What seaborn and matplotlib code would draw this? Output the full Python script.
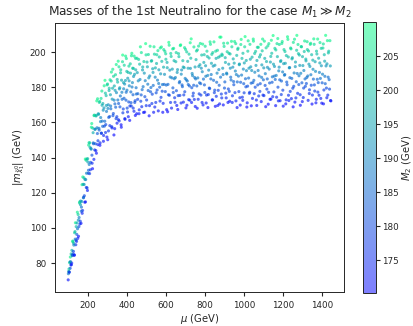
import numpy as np
import pandas as pd
import matplotlib
matplotlib.use("Agg")
import matplotlib.pyplot as plt
from matplotlib.colors import ListedColormap, Normalize
from matplotlib.cm import ScalarMappable
import seaborn as sns

# first scan: mu (GeV), M2 (GeV) and |m_chi1| (GeV)
mu_a = [97, 99, 102, 104, 107, 109, 112, 115, 117, 120,
        122, 125, 128, 130, 133, 136, 138, 141, 144, 146,
        149, 152, 155, 157, 160, 163, 165, 168, 171, 174,
        176, 179, 182, 185, 187, 190, 193, 196, 198, 201,
        204, 207, 209, 212, 215, 218, 220, 223, 226, 229,
        231, 234, 237, 240, 242, 245, 248, 250,
        253, 256, 259, 261, 264, 267, 270, 272, 275, 278,
        281, 283, 286, 289, 292, 294, 297, 300, 303, 305,
        308, 311, 314, 316, 319, 322, 325, 327, 330, 333,
        336, 338, 341, 344, 347, 349, 352, 355, 358, 360,
        363, 366, 369, 371, 374, 377, 380, 382, 385, 388,
        391, 394, 396, 399, 402, 405, 408, 410, 413, 416,
        419, 421, 424, 427, 430, 432, 435, 438, 441, 443,
        446, 449,
        452, 455, 459, 462, 466, 470, 473, 477, 480, 484,
        488, 491, 495, 498, 502, 506, 509, 513, 516, 520,
        524, 527, 531, 534, 538, 542, 545, 549, 552, 556,
        560, 563, 567, 570, 574, 578, 581, 585, 588, 592,
        596, 599, 603, 606, 610, 614, 617, 621, 624, 628,
        632, 635, 639, 642, 646, 650, 653, 657, 660, 664,
        668, 671, 675, 678, 682, 686, 689, 693, 696, 700,
        704, 707, 711, 714, 718, 722, 725, 729, 732, 736,
        740, 743, 747, 750, 754, 758, 761, 765, 768, 772,
        776, 779, 783, 786, 790, 794, 797, 801, 804, 808,
        812, 815, 819, 822, 826, 830, 833, 837, 840, 844,
        848, 851, 855, 858, 862, 866, 869, 873, 876, 880,
        884, 887, 891, 894, 898, 902, 905, 909, 912, 916,
        920, 923, 927, 930, 934, 938, 941, 945, 948, 952,
        956, 959, 963, 966, 970, 974, 977, 981, 984, 988,
        992, 995, 999,
        1002, 1006, 1010, 1013, 1017, 1020, 1024, 1028, 1031, 1035,
        1038, 1042, 1046, 1049, 1053, 1056, 1060, 1064, 1067, 1071,
        1074, 1078, 1082, 1085, 1089, 1092, 1096, 1100, 1103, 1107,
        1110, 1114, 1118, 1121, 1125, 1128, 1132, 1136, 1139, 1143,
        1146, 1150, 1154, 1157, 1161, 1164, 1168, 1172, 1175, 1179,
        1182, 1186, 1190, 1193, 1197, 1200, 1204, 1208, 1211, 1215,
        1218, 1222, 1226, 1229, 1233, 1236, 1240, 1244, 1247, 1251,
        1254, 1258, 1262, 1265, 1269, 1272, 1276, 1280, 1283, 1287,
        1290, 1294, 1298, 1301, 1305, 1308, 1312, 1316, 1319, 1323,
        1326, 1330, 1334, 1337, 1341, 1344, 1348, 1352, 1355, 1359,
        1362, 1366, 1370, 1373, 1377, 1380, 1384, 1388, 1391, 1395,
        1398, 1402, 1406, 1409, 1413, 1416, 1420, 1424, 1427, 1431,
        1434, 1438, 1442, 1445]

m2_a = [172, 196, 183, 205, 177, 190, 200, 174, 186, 208,
        180, 194, 171, 202, 188, 176, 198, 183, 207, 173,
        192, 181, 203, 178, 195, 171, 186, 206, 176, 199,
        184, 193, 174, 210, 189, 179, 201, 172, 194, 185,
        205, 177, 197, 182, 190, 208, 175, 200, 187, 173,
        204, 192, 180, 198, 171, 188, 207, 178,
        195, 184, 202, 174, 190, 179, 206, 186, 197, 172,
        193, 181, 210, 176, 199, 188, 204, 170.2, 191, 183,
        200, 177, 195, 186, 207, 174, 197, 181, 203, 189,
        172, 194, 184, 208, 178, 199, 187, 175, 205, 192,
        182, 201, 171, 196, 185, 210, 179, 190, 203, 173,
        194, 183, 206, 188, 176, 198, 181, 193, 170.2, 202,
        186, 178, 208, 191, 184, 199, 174, 195, 180, 204,
        187, 172,
        195, 184, 202, 174, 190, 179, 206, 186, 197, 172,
        193, 181, 210, 176, 199, 188, 204, 170.2, 191, 183,
        200, 177, 195, 186, 207, 174, 197, 181, 203, 189,
        172, 194, 184, 208, 178, 199, 187, 175, 205, 192,
        182, 201, 171, 196, 185, 210, 179, 190, 203, 173,
        194, 183, 206, 188, 176, 198, 181, 193, 170.2, 202,
        186, 178, 208, 191, 184, 199, 174, 195, 180, 204,
        187, 172, 197, 185, 201, 176, 193, 210, 182, 190,
        179, 206, 188, 171, 198, 184, 203, 175, 194, 186,
        207, 178, 200, 191, 173, 196, 183, 205, 189, 177,
        199, 170.2, 192, 181, 208, 186, 196, 174, 202, 185,
        179, 194, 203, 176, 190, 172, 198, 183, 210, 187,
        178, 200, 193, 171, 205, 184, 196, 175, 189, 207,
        180, 201, 173, 192, 186, 204, 177, 197, 182, 208,
        190, 174, 199, 185, 203, 179, 194, 171, 206, 188,
        176, 200, 183,
        195, 210, 181, 191, 172, 202, 186, 178, 205, 193,
        170.2, 198, 184, 207, 177, 190, 201, 174, 196, 182,
        204, 187, 179, 199, 172.5, 194, 208, 185, 176, 197,
        189, 203, 180, 192, 171, 206, 183, 195, 174, 200,
        187, 210, 178, 193, 185, 202, 175, 198, 181, 190,
        205, 173, 196, 184, 207, 179, 194, 188, 201, 171,
        199, 182, 208, 176, 192, 186, 203, 174, 197, 180,
        206, 189, 172, 195, 184, 210, 177, 200, 187, 193,
        170.2, 204, 183, 198, 175, 190, 207, 181, 196, 186,
        202, 173, 194, 179, 205, 188, 199, 176, 191, 208,
        182, 195, 172, 201, 185, 178, 197, 189, 206, 174,
        193, 183, 203, 171, 199, 187, 210, 180, 194, 176,
        200, 185, 207, 173]

mchi_a = [70.4, 75.2, 75.0, 80.2, 77.0, 80.8, 85.2, 80.0, 84.5, 92.5,
          85.1, 91.2, 84.4, 97.2, 93.6, 90.4, 100.7, 96.3, 108.9, 94.0,
          104.4, 100.7, 114.2, 102.2, 113.2, 102.6, 111.8, 124.6, 109.9, 124.8,
          117.4, 124.7, 114.6, 139.2, 127.5, 123.0, 139.2, 121.3, 137.5, 132.8,
          148.5, 130.9, 145.9, 137.3, 144.8, 159.4, 136.8, 156.8, 148.4, 139.0,
          164.2, 156.1, 147.9, 163.7, 142.5, 157.0, 173.5, 149.6,
          164.6, 155.7, 172.0, 148.4, 162.8, 153.9, 177.9, 160.8, 170.8, 149.3,
          168.3, 157.9, 184.0, 154.3, 175.3, 166.3, 181.4, 150.2, 170.1, 162.9,
          179.5, 158.2, 175.8, 167.8, 188.7, 156.9, 179.5, 163.9, 186.3, 172.7,
          156.5, 178.3, 168.7, 193.0, 163.3, 184.5, 172.8, 161.6, 191.7, 179.1,
          168.9, 188.3, 158.7, 184.1, 173.2, 198.4, 167.7, 179.2, 192.6, 162.2,
          183.9, 172.7, 196.4, 178.4, 166.0, 188.5, 171.7, 183.7, 161.2, 193.4,
          177.4, 169.4, 199.4, 182.7, 175.8, 190.8, 166.4, 187.4, 172.4, 196.5,
          179.8, 165.0,
          188.4, 176.4, 195.9, 167.2, 184.5, 172.1, 199.8, 178.7, 191.6, 165.7,
          188.1, 174.7, 204.9, 169.6, 194.4, 181.8, 198.7, 163.8, 186.5, 177.5,
          194.9, 170.8, 190.6, 181.1, 203.1, 168.8, 191.1, 176.9, 198.6, 184.1,
          166.6, 190.0, 180.1, 202.4, 174.3, 194.8, 181.6, 170.9, 201.5, 187.4,
          177.6, 196.0, 167.3, 191.2, 181.7, 205.6, 175.5, 185.9, 199.3, 168.2,
          190.4, 179.7, 202.2, 184.9, 171.5, 194.6, 178.1, 188.5, 167.4, 199.2,
          182.6, 175.4, 204.2, 187.5, 181.4, 195.2, 171.6, 191.2, 177.5, 201.6,
          184.3, 169.8, 194.8, 181.6, 198.9, 172.7, 190.8, 207.6, 179.8, 186.7,
          176.7, 203.0, 185.6, 169.1, 195.8, 180.8, 201.3, 173.2, 191.9, 182.6,
          205.0, 175.6, 198.4, 188.9, 170.0, 194.2, 181.4, 203.4, 186.3, 175.6,
          197.6, 168.5, 189.8, 179.6, 205.9, 184.8, 193.7, 172.8, 199.8, 184.0,
          177.0, 192.6, 200.6, 174.9, 188.1, 169.7, 197.1, 181.2, 208.6, 185.8,
          176.2, 198.9, 190.9, 170.0, 203.3, 183.1, 194.2, 174.0, 187.6, 205.2,
          179.1, 199.4, 172.1, 190.9, 184.2, 203.1, 175.2, 196.2, 181.5, 206.1,
          189.3, 172.3, 198.2, 183.1, 202.3, 177.6, 193.3, 169.9, 204.4, 187.0,
          174.4, 199.4, 182.1,
          193.9, 208.9, 180.3, 189.5, 171.2, 200.6, 185.3, 176.6, 204.5, 191.7,
          169.5, 197.2, 182.7, 206.3, 176.4, 188.6, 200.5, 172.8, 195.3, 181.4,
          202.8, 186.5, 177.7, 198.6, 171.9, 192.8, 207.5, 184.3, 175.3, 196.5,
          187.8, 202.5, 179.0, 191.4, 170.4, 204.9, 182.5, 194.4, 173.3, 199.4,
          186.0, 209.5, 177.4, 191.9, 184.5, 201.3, 174.4, 197.5, 180.1, 189.4,
          204.4, 172.4, 195.2, 183.6, 206.1, 178.4, 193.5, 186.9, 200.4, 170.6,
          198.1, 181.5, 207.3, 175.5, 191.1, 185.5, 202.4, 173.6, 196.2, 179.5,
          205.6, 188.2, 171.6, 194.4, 183.2, 209.6, 176.6, 199.2, 186.6, 192.5,
          169.8, 203.2, 182.6, 197.5, 174.2, 189.6, 206.4, 180.6, 195.1, 185.6,
          201.5, 172.6, 193.2, 178.6, 204.5, 187.2, 198.6, 175.6, 190.3, 207.6,
          181.4, 194.6, 171.2, 200.6, 184.6, 177.3, 196.6, 188.5, 205.5, 173.7,
          192.3, 182.6, 202.4, 170.6, 198.6, 186.3, 209.6, 179.6, 193.4, 175.6,
          199.6, 184.4, 206.6, 172.5]

# second scan, interleaved with the first
mu_b = [98, 101, 103, 106, 108, 111, 113, 116, 119, 121,
        124, 126, 129, 132, 134, 137, 140, 142, 145, 148,
        150, 153, 156, 159, 161, 164, 167, 169, 172, 175,
        178, 180, 183, 186, 189, 191, 194, 197, 200, 202,
        205, 208, 211, 214, 216, 219, 222, 225, 227, 230,
        233, 236, 239, 241, 244, 247, 249,
        252, 255, 257, 260, 263, 266, 268, 271, 274, 277,
        279, 282, 285, 288, 290, 293, 296, 299, 301, 304,
        307, 310, 312, 315, 318, 321, 323, 326, 329, 332,
        334, 337, 340, 343, 345, 348, 351, 354, 356, 359,
        362, 365, 367, 370, 373, 376, 378, 381, 384, 387,
        389, 392, 395, 398, 400, 403, 406, 409, 411, 414,
        417, 420, 422, 425, 428, 431, 433, 436, 439, 442,
        444, 447, 450,
        454, 457, 461, 464, 468, 472, 475, 479, 482, 486,
        490, 493, 497, 500, 504, 508, 511, 515, 518, 522,
        526, 529, 533, 536, 540, 544, 547, 551, 554, 558,
        562, 565, 569, 572, 576, 580, 583, 587, 590, 594,
        598, 601, 605, 608, 612, 616, 619, 623, 626, 630,
        634, 637, 641, 644, 648, 652, 655, 659, 662, 666,
        670, 673, 677, 680, 684, 688, 691, 695, 698, 702,
        706, 709, 713, 716, 720, 724, 727, 731, 734, 738,
        742, 745, 749, 752, 756, 760, 763, 767, 770, 774,
        778, 781, 785, 788, 792, 796, 799, 803, 806, 810,
        814, 817, 821, 824, 828, 832, 835, 839, 842, 846,
        850, 853, 857, 860, 864, 868, 871, 875, 878, 882,
        886, 889, 893, 896, 900, 904, 907, 911, 914, 918,
        922, 925, 929, 932, 936, 940, 943, 947, 950, 954,
        958, 961, 965, 968, 972, 976, 979, 983, 986, 990,
        994, 997, 1001, 1004, 1008, 1012, 1015, 1019, 1022, 1026,
        1030, 1033, 1037, 1040, 1044, 1048, 1051, 1055, 1058, 1062,
        1066, 1069, 1073, 1076, 1080, 1084, 1087, 1091, 1094, 1098,
        1102, 1105, 1109, 1112, 1116, 1120, 1123, 1127, 1130, 1134,
        1138, 1141, 1145, 1148, 1152, 1156, 1159, 1163, 1166, 1170,
        1174, 1177, 1181, 1184, 1188, 1192, 1195, 1199, 1202, 1206,
        1210, 1213, 1217, 1220, 1224, 1228, 1231, 1235, 1238, 1242,
        1246, 1249, 1253, 1256, 1260, 1264, 1267, 1271, 1274, 1278,
        1282, 1285, 1289, 1292, 1296, 1300, 1303, 1307, 1310, 1314,
        1318, 1321, 1325, 1328, 1332, 1336, 1339, 1343, 1346, 1350,
        1354, 1357, 1361, 1364, 1368, 1372, 1375, 1379, 1382, 1386,
        1390, 1393, 1397, 1400, 1404, 1408, 1411, 1415, 1418, 1422,
        1426, 1429, 1433, 1436, 1440, 1444, 1447]

m2_b = [188, 201, 176, 193, 207, 181, 170.5, 197, 185, 204,
        179, 191, 173, 199, 209, 183, 175, 195, 187, 202,
        171, 189, 205, 178, 196, 184, 192, 174, 208, 186,
        200, 180, 194, 172, 203, 190, 177, 198, 182, 206,
        188, 201, 176, 193, 207, 181, 170.5, 197, 185, 204,
        179, 191, 173, 199, 209, 183, 175,
        195, 187, 202, 171, 189, 205, 178, 196, 184, 192,
        174, 208, 186, 200, 180, 194, 172, 203, 190, 177,
        198, 182, 206, 188, 201, 176, 193, 207, 181, 170.5,
        197, 185, 204, 179, 191, 173, 199, 209, 183, 175,
        195, 187, 202, 171, 189, 205, 178, 196, 184, 192,
        174, 208, 186, 200, 180, 194, 172, 203, 190, 177,
        198, 182, 206, 188, 201, 176, 193, 207, 181, 170.5,
        197, 185, 204,
        179, 191, 173, 199, 209, 183, 175, 195, 187, 202,
        171, 189, 205, 178, 196, 184, 192, 174, 208, 186,
        200, 180, 194, 172, 203, 190, 177, 198, 182, 206,
        188, 201, 176, 193, 207, 181, 170.5, 197, 185, 204,
        204, 185, 197, 170.5, 181, 207, 193, 176, 201, 188,
        206, 182, 198, 177, 190, 203, 172, 194, 180, 200,
        186, 208, 174, 192, 184, 196, 178, 205, 189, 171,
        202, 187, 195, 175, 183, 209, 199, 173, 191, 179,
        183, 175, 195, 187, 202, 171, 189, 205, 178, 196,
        184, 192, 174, 208, 186, 200, 180, 194, 172, 203,
        190, 177, 198, 182, 206, 188, 201, 176, 193, 207,
        181, 170.5, 197, 185, 204, 179, 191, 173, 199, 209,
        176, 201, 188, 206, 182, 198, 177, 190, 203, 172,
        194, 180, 200, 186, 208, 174, 192, 184, 196, 178,
        205, 189, 171, 202, 187, 195, 175, 183, 209, 199,
        173, 191, 179, 204, 185, 197, 170.5, 181, 207, 193,
        178, 196, 184, 192, 174, 208, 186, 200, 180, 194,
        172, 203, 190, 177, 198, 182, 206, 188, 201, 176,
        193, 207, 181, 170.5, 197, 185, 204, 179, 191, 173,
        199, 209, 183, 175, 195, 187, 202, 171, 189, 205,
        208, 174, 192, 184, 196, 178, 205, 189, 171, 202,
        187, 195, 175, 183, 209, 199, 173, 191, 179, 204,
        185, 197, 170.5, 181, 207, 193, 176, 201, 188, 206,
        182, 198, 177, 190, 203, 172, 194, 180, 200, 186,
        198, 182, 206, 188, 201, 176, 193, 207, 181, 170.5,
        197, 185, 204, 179, 191, 173, 199, 209, 183, 175,
        195, 187, 202, 171, 189, 205, 178, 196, 184, 192,
        174, 208, 186, 200, 180, 194, 172]

mchi_b = [73.9, 76.6, 74.7, 80.5, 83.4, 78.9, 79.0, 87.2, 84.2, 92.1,
          86.6, 90.2, 84.6, 97.9, 102.9, 93.0, 92.3, 102.8, 99.5, 107.6,
          95.2, 105.9, 114.8, 103.8, 115.3, 109.5, 115.0, 108.3, 129.0, 117.1,
          128.5, 118.3, 127.6, 114.8, 138.5, 131.1, 122.8, 139.4, 131.1, 147.1,
          136.1, 148.4, 133.1, 145.2, 157.3, 141.4, 133.7, 154.2, 147.9, 163.9,
          144.4, 156.2, 144.0, 164.1, 172.3, 153.7, 147.4,
          165.0, 156.7, 171.4, 147.0, 160.5, 173.7, 153.9, 169.8, 157.8, 167.0,
          152.6, 180.9, 160.7, 176.7, 158.8, 169.7, 151.7, 181.9, 168.0, 155.2,
          178.2, 163.4, 184.3, 169.4, 183.6, 157.6, 173.3, 190.3, 165.1, 152.9,
          180.8, 170.6, 187.2, 162.2, 177.0, 159.6, 183.0, 194.9, 170.8, 160.9,
          179.8, 175.1, 190.0, 157.3, 177.2, 194.6, 165.5, 182.7, 173.8, 181.9,
          161.8, 197.8, 177.2, 189.1, 168.2, 185.2, 163.3, 192.1, 180.9, 169.4,
          188.1, 171.3, 198.0, 180.2, 190.9, 168.2, 186.2, 197.8, 171.4, 164.0,
          190.0, 176.2, 196.6,
          173.2, 183.7, 165.0, 193.2, 203.1, 175.7, 169.0, 189.9, 180.4, 194.7,
          165.9, 183.8, 198.5, 172.8, 191.7, 178.2, 185.4, 169.6, 203.4, 179.9,
          195.2, 176.1, 188.5, 165.8, 198.9, 185.8, 171.4, 193.6, 178.5, 200.9,
          182.2, 197.3, 172.2, 187.7, 203.0, 177.8, 165.8, 191.5, 181.7, 200.5,
          199.1, 181.3, 194.2, 166.1, 175.8, 204.0, 189.8, 171.4, 197.6, 185.4,
          201.9, 177.1, 195.2, 174.1, 185.6, 199.8, 169.7, 190.1, 175.3, 197.5,
          183.3, 203.8, 171.1, 189.9, 180.4, 191.6, 175.7, 202.6, 185.1, 168.3,
          200.2, 183.6, 190.9, 173.0, 180.8, 205.4, 196.6, 171.4, 187.9, 175.1,
          181.2, 173.1, 191.6, 184.8, 200.7, 168.1, 185.4, 203.5, 176.3, 192.9,
          182.1, 190.9, 171.4, 204.6, 184.7, 198.6, 177.1, 192.3, 171.1, 200.6,
          186.8, 175.9, 196.7, 179.3, 204.5, 187.3, 198.8, 172.9, 192.1, 205.9,
          178.4, 169.2, 196.5, 182.9, 201.1, 178.3, 190.1, 170.6, 197.8, 208.6,
          174.0, 198.2, 187.3, 205.1, 179.6, 196.9, 176.7, 188.1, 200.3, 171.4,
          193.2, 177.7, 199.0, 185.8, 206.2, 171.4, 191.5, 183.3, 193.8, 177.0,
          204.9, 187.3, 168.5, 201.6, 186.4, 192.9, 174.1, 182.9, 207.3, 196.5,
          172.6, 190.4, 176.9, 203.1, 184.9, 195.3, 168.8, 180.7, 206.5, 190.9,
          177.2, 196.0, 182.4, 189.6, 173.7, 207.5, 184.0, 199.3, 180.1, 192.5,
          169.7, 202.8, 189.6, 175.1, 197.3, 182.1, 204.5, 185.7, 200.8, 175.6,
          191.1, 206.3, 181.1, 169.0, 194.7, 184.8, 203.6, 177.2, 190.4, 173.2,
          197.6, 206.8, 182.9, 174.7, 193.2, 186.4, 202.2, 169.6, 186.8, 204.9,
          207.8, 172.3, 191.5, 184.3, 194.7, 175.9, 205.0, 188.8, 169.3, 201.5,
          187.3, 193.7, 172.9, 183.0, 208.8, 197.3, 172.5, 191.3, 177.7, 201.9,
          185.1, 196.9, 168.9, 180.6, 207.4, 191.8, 174.0, 201.1, 187.9, 204.4,
          181.6, 198.4, 175.8, 188.0, 203.1, 171.9, 192.4, 179.6, 200.4, 184.8,
          196.1, 182.2, 206.0, 186.5, 200.7, 176.5, 191.9, 205.1, 181.2, 170.5,
          195.5, 184.7, 204.5, 177.9, 189.1, 173.2, 199.0, 207.5, 182.7, 175.5,
          193.9, 185.1, 202.2, 171.0, 187.5, 204.7, 178.5, 194.9, 182.1, 192.2,
          174.1, 206.6, 185.8, 200.6, 179.0, 192.2, 172.3]

df = pd.DataFrame({"mu": mu_a + mu_b, "M2": m2_a + m2_b,
                   "mchi": mchi_a + mchi_b})

sns.set_style("ticks")
plt.rcParams["font.family"] = ["DejaVu Sans"]
plt.rcParams["font.size"] = 6.3
plt.rcParams["axes.titlesize"] = 8.7
plt.rcParams["axes.labelsize"] = 7.2
plt.rcParams["xtick.labelsize"] = 6.3
plt.rcParams["ytick.labelsize"] = 6.3
plt.rcParams["axes.labelpad"] = 2.0
plt.rcParams["xtick.major.size"] = 2.6
plt.rcParams["ytick.major.size"] = 2.6
plt.rcParams["axes.linewidth"] = 0.7


def winter_alpha(alpha):
    colors = plt.get_cmap("winter")(np.linspace(0, 1, 256))
    colors[:, 3] = alpha
    return ListedColormap(colors)


norm = Normalize(vmin=df["M2"].min(), vmax=df["M2"].max())

fig = plt.figure(figsize=(4.14, 3.26), dpi=100)
ax = fig.add_axes([0.133, 0.104, 0.698, 0.825])
cax = fig.add_axes([0.876, 0.101, 0.032, 0.831])

# points overlap more densely in the original, so a touch more opaque
sns.scatterplot(data=df, x="mu", y="mchi", hue="M2", palette=winter_alpha(0.62),
                hue_norm=norm, s=5, linewidth=0, legend=False, ax=ax)

ax.set_title(r"Masses of the 1st Neutralino for the case $M_1 \gg M_2$", pad=5)
ax.set_xlabel(r"$\mu$ (GeV)")
ax.set_ylabel(r"$|m_{\tilde{\chi}_1^0}|$ (GeV)")
ax.set_xticks([200, 400, 600, 800, 1000, 1200, 1400])

cb = fig.colorbar(ScalarMappable(norm=norm, cmap=winter_alpha(0.5)), cax=cax)
cb.set_ticks([175, 180, 185, 190, 195, 200, 205])
cb.outline.set_linewidth(0.7)
cax.tick_params(length=2.6, pad=2)
cb.set_label(r"$M_2$ (GeV)", labelpad=1)

fig.savefig("out.png", dpi=100)
